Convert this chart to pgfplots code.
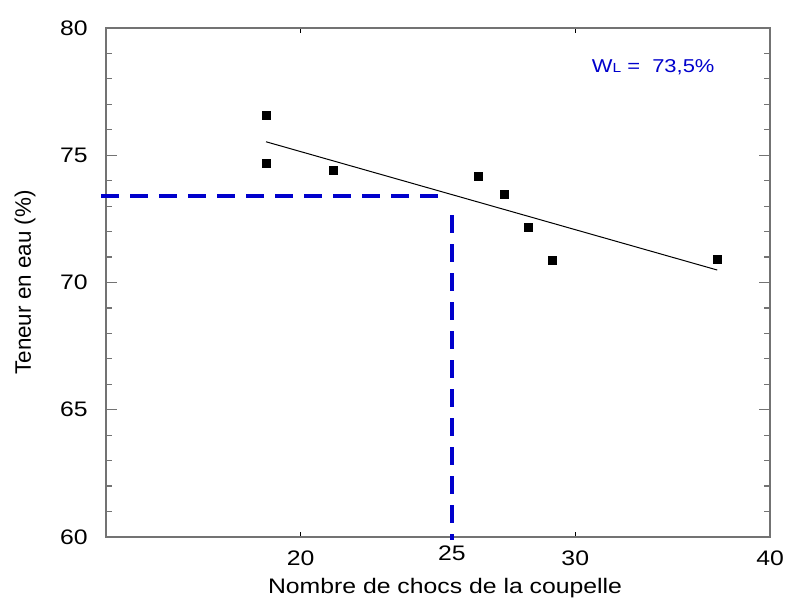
\documentclass[border=0pt]{standalone}
\usepackage{pgfplots}
\pgfplotsset{compat=1.18}
\usepackage{fontspec}
\setmainfont{Liberation Sans}[FakeStretch=1.18]
\newfontfamily\plainfont{Liberation Sans}
\definecolor{dblue}{RGB}{0,0,204}
\definecolor{axgray}{RGB}{115,115,115}
\begin{document}
\begin{tikzpicture}
\path[use as bounding box] (-53pt,-30.5pt) rectangle (340pt,268.5pt);
\begin{axis}[
  scale only axis, width=332pt, height=254.5pt,
  xmode=log, xmin=15, xmax=40, ymin=60, ymax=80,
  xtick={20,30,40}, xticklabels={20,30,40}, minor xtick={},
  ytick={60,65,70,75,80}, minor y tick num=4,
  xtick pos=both, ytick pos=both, tick align=inside,
  major tick length=5.5pt, minor tick length=3pt,
  tick style={axgray, line width=0.6pt},
  xtick style={/pgfplots/major tick length=2.5pt, black},
  axis line style={axgray, line width=0.7pt},
  font=\fontsize{10.5}{12}\selectfont,
  /pgf/number format/assume math mode=true,
  xticklabel style={anchor=center, inner sep=0pt, yshift=-10.5pt},
  yticklabel style={anchor=east, inner sep=0pt, xshift=-9pt},
  xlabel={Nombre de chocs de la coupelle},
  ylabel={\plainfont\fontsize{11.2}{13}\selectfont Teneur en eau (\%)},
  xlabel style={at={([xshift=3.5pt,yshift=-25.5pt]axis description cs:0.5,0)}, anchor=center, inner sep=0pt},
  ylabel style={at={([xshift=-40.5pt]axis description cs:0,0.5)}, anchor=center, inner sep=0pt},
  clip=false,
]
\addplot[dblue, line width=2pt, dash pattern=on 9pt off 5.5pt] coordinates {(14.9,73.41) (24.55,73.41)};
\addplot[dblue, line width=2pt, dash pattern=on 9pt off 5.5pt] coordinates {(25,72.65) (25,59.9)};
\addplot[black, line width=0.5pt] coordinates {(19,75.53) (37,70.49)};
\addplot[only marks, mark=square*, mark size=2pt, black] coordinates {
  (19,76.55) (19,74.67) (21,74.41) (26,74.17) (27,73.48) (28,72.17) (29,70.87) (37,70.92)
};
\node[anchor=center, inner sep=0pt] at ([yshift=-8pt]axis cs:25,60) {25};
\node[anchor=center, inner sep=0pt, text=dblue] at (axis cs:33.66,78.47)
  {\fontsize{9.3}{11}\selectfont W\fontsize{6.6}{8}\selectfont L\fontsize{9.3}{11}\selectfont{} =\ \ 73,5\%};
\end{axis}
\end{tikzpicture}
\end{document}
